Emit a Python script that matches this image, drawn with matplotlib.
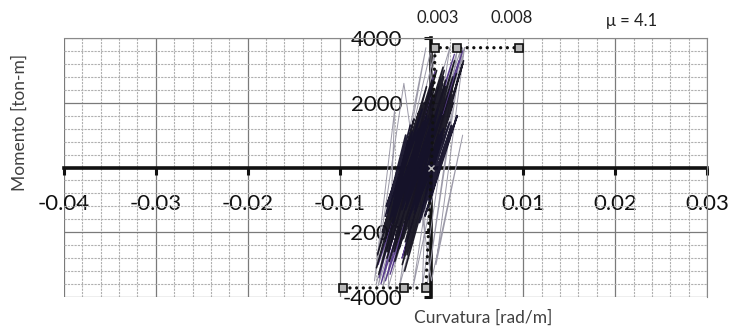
import matplotlib
matplotlib.use("Agg")
import matplotlib.pyplot as plt
from matplotlib.ticker import MultipleLocator

plt.rcParams['font.family'] = ['Lato', 'DejaVu Sans']
plt.rcParams['axes.unicode_minus'] = False

# Hysteresis response: main cycles (curvature rad/m, moment ton-m)
core_phi = [-0.00065, -0.0051, 0.00025, -0.0042, -0.0004, -0.00485, 0.0014, -0.00385,
            0.00097, -0.00288, 0.00095, -0.0035, 0.00232, -0.00253, 0.0023, -0.00295,
            0.0034, -0.00203, 0.00235, -0.00318, 0.00095, -0.00305, 0.00155, -0.00333,
            0.00007, -0.0048, -0.0002, -0.00598, -0.0014, -0.00533, -0.00053, -0.00433,
            0.00057, -0.00468, 0.0002, -0.00458, 0.00122, -0.00285, 0.00252, -0.00285,
            0.00272, -0.00265, 0.0035, -0.00292, 0.00217, -0.00283, 0.0013, -0.00398,
            0.00135, -0.00385, 0.00027, -0.00573, -0.0008, -0.00588, -0.0019, -0.0050,
            0.00005, -0.00448, 0.00127, -0.00405, 0.0015, -0.0025, 0.0012, -0.00198,
            -0.00015, -0.0021, -0.0008, -0.0013]
core_m = [2000, -2300, 2600, -1700, 1600, -2800, 3000, -2100,
          2200, -1500, 1800, -2500, 2800, -1900, 2400, -2700,
          3200, -2000, 2000, -3000, 1500, -2200, 2700, -1800,
          1900, -2600, 2300, -3100, 1700, -2000, 2500, -1600,
          3000, -2400, 2100, -2900, 2600, -1700, 3300, -2300,
          2900, -2700, 3300, -3200, 2200, -2500, 2000, -2900,
          2800, -2100, 2400, -3300, 2000, -2700, 1500, -1900,
          2700, -2200, 3100, -2600, 2500, -1800, 1600, -1200,
          1000, -800, 500, 0]

# Small cycles around the origin
small_phi = [-0.0023, -0.0048, -0.0010, -0.0041, -0.0012, -0.0042, -0.0003, -0.0029,
             0.0000, -0.0028, 0.0011, -0.0025, 0.0011, -0.0011, 0.0020, -0.0009,
             0.0020, -0.0007, 0.0028, -0.0003, 0.0011, -0.0018, 0.0003, -0.0027,
             -0.0005, -0.0042, -0.0021, -0.0049, -0.0026, -0.0045, -0.0009, -0.0027,
             0.0007, -0.0018, 0.0013, -0.0004, 0.0022, -0.0013, 0.0008, -0.0019,
             0.0000, -0.0032, -0.0014, -0.0042, -0.0028, -0.0050]
small_m = [1300, -1400, 1800, -1100, 1000, -1700, 1500, -900,
           1200, -1300, 1700, -1600, 1100, -800, 1400, -1200,
           1000, -1500, 1600, -1000, 900, -1400, 1300, -1100,
           1600, -1500, 1100, -1200, 800, -1600, 1400, -1000,
           1800, -1300, 1200, -900, 1300, -1700, 1000, -1100,
           1400, -1300, 1200, -900, 1000, -1500]

# Larger cycles
mid_phi = [-0.0057, 0.0004, -0.0055, 0.0025, -0.0045, 0.0034, -0.0032,
           0.0030, -0.0050, 0.0008, -0.0058, 0.0000, -0.0046]
mid_m = [-3400, 3000, -3600, 3500, -3300, 3600, -2800,
         3300, -3500, 2500, -3000, 2200, -2600]

# Peak cycles
peak_phi = [0.0036, -0.0020, 0.0020, -0.0058, -0.0006, -0.0053, 0.0032, -0.0005,
            0.0034, -0.0035, 0.0005, -0.0060, 0.0000, -0.0010, 0.0028, -0.0047,
            -0.0040, -0.0062, -0.0030, 0.0000, 0.0034, 0.0005, 0.0036]
peak_m = [3700, -3700, 3700, -3650, 3700, -3700, 3650, -3700,
          3700, -3700, 3700, -3600, 3700, -3700, 3600, -3700,
          1800, -3500, 2600, -3500, 1000, -3000, 3700]

# Idealised envelope
env_phi = [-0.0096, -0.0030, -0.0006, 0.0, 0.0004, 0.0028, 0.0095]
env_m = [-3720, -3720, -3720, 0, 3700, 3700, 3700]

fig = plt.figure(figsize=(7.29, 3.31), dpi=100)
ax = fig.add_axes([64/729, 1-297/331, (707-64)/729, (297-38)/331])
ax.set_xlim(-0.04, 0.03)
ax.set_ylim(-4000, 4000)

ax.set_axisbelow(True)
ax.xaxis.set_minor_locator(MultipleLocator(0.002))
ax.yaxis.set_minor_locator(MultipleLocator(400))
ax.set_xticks([-0.04, -0.03, -0.02, -0.01, 0.0, 0.01, 0.02, 0.03])
ax.set_xticklabels(['-0.04', '-0.03', '-0.02', '-0.01', '', '0.01', '0.02', '0.03'])
ax.set_yticks([-4000, -2000, 0, 2000, 4000])
ax.set_yticklabels(['-4000', '-2000', '', '2000', '4000'])

ax.grid(which='minor', color='#b0b0b0', linestyle=(0, (2, 1)), linewidth=0.8)
ax.grid(which='major', color='#7a7a7a', linestyle='-', linewidth=0.9)

for s in ['top', 'right']:
    ax.spines[s].set_color('#8a8a8a')
    ax.spines[s].set_linewidth(0.8)
for s in ['left', 'bottom']:
    ax.spines[s].set_position(('data', 0))
    ax.spines[s].set_linewidth(2.6)
    ax.spines[s].set_color('#111111')
    ax.spines[s].set_zorder(1.5)

ax.tick_params(axis='x', which='major', direction='out', length=5, width=2.2,
               pad=14, labelsize=16, colors='#111111')
ax.tick_params(axis='y', which='major', direction='out', length=5, width=2.2,
               pad=16, labelsize=16, colors='#111111')
ax.tick_params(which='minor', length=0)

ax.plot(peak_phi, peak_m, color='#9c9aa8', linewidth=0.7, zorder=3)
ax.plot(mid_phi, mid_m, color='#5a3f8c', linewidth=0.9, zorder=3.2)
ax.plot(core_phi, core_m, color='#14121f', linewidth=1.15, alpha=0.95, zorder=3.4)
ax.plot(small_phi, small_m, color='#15122a', linewidth=1.3, alpha=0.95, zorder=3.5)

ax.plot(env_phi, env_m, linestyle=(0, (0.01, 2.0)), color='#111111',
        linewidth=2.4, dash_capstyle='round', zorder=4)
ax.plot([p for p, m in zip(env_phi, env_m) if m != 0],
        [m for m in env_m if m != 0], linestyle='none', marker='s',
        markersize=6, markerfacecolor='#b8b8b8', markeredgecolor='#111111',
        markeredgewidth=1.2, zorder=5)
ax.plot([0.0], [0.0], linestyle='none', marker='x', markersize=4,
        color='#bbbbbb', zorder=5)

fig.text(20/729, 1-122/331, 'Momento [ton-m]', rotation=90, ha='center',
         va='center', fontsize=12.5, color='#404040')
fig.text(483/729, 1-318/331, 'Curvatura [rad/m]', ha='center', va='center',
         fontsize=12.5, color='#404040')
fig.text(438/729, 1-18/331, '0.003', ha='center', va='center', fontsize=12,
         color='#222222')
fig.text(512/729, 1-18/331, '0.008', ha='center', va='center', fontsize=12,
         color='#222222')
fig.text(632/729, 1-21/331, 'μ = 4.1', ha='center', va='center', fontsize=12,
         color='#222222')

fig.savefig('out.png', dpi=100)
